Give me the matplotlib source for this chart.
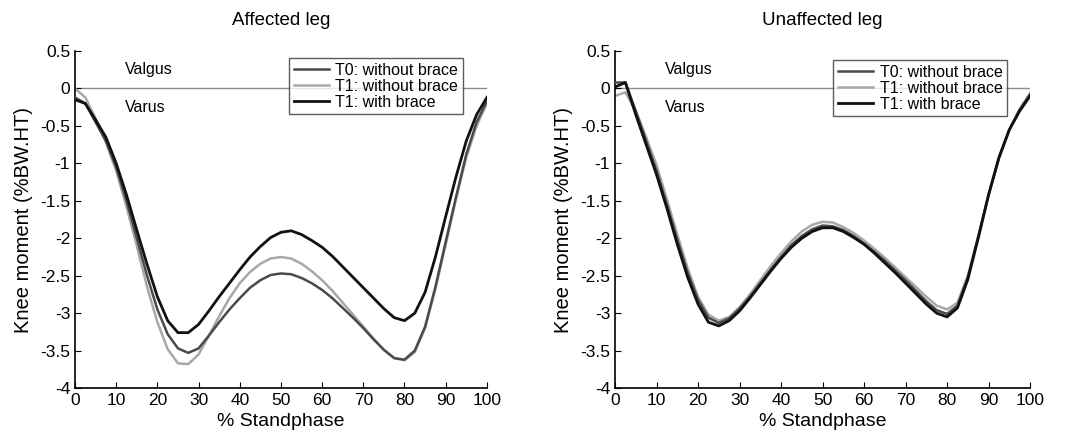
import numpy as np
import matplotlib
matplotlib.use("Agg")
import matplotlib.pyplot as plt

plt.rcParams['font.family'] = ['Liberation Sans', 'DejaVu Sans']

# % stand phase
x = np.arange(0, 100.1, 2.5)

# affected leg
aff_t0 = [-0.12, -0.2, -0.45, -0.7, -1.05, -1.5, -2.0, -2.5, -2.95, -3.28, -3.47, -3.53, -3.47, -3.3,
          -3.12, -2.95, -2.8, -2.66, -2.56, -2.49, -2.47, -2.48, -2.53, -2.6, -2.69, -2.8, -2.93,
          -3.06, -3.2, -3.35, -3.49, -3.6, -3.62, -3.5, -3.18, -2.65, -2.05, -1.45, -0.88, -0.45, -0.17]
aff_t1_without = [0.0, -0.12, -0.4, -0.72, -1.1, -1.58, -2.1, -2.65, -3.12, -3.48, -3.67, -3.68, -3.55,
                  -3.3, -3.04, -2.8, -2.6, -2.45, -2.34, -2.27, -2.25, -2.27, -2.34, -2.44, -2.56, -2.7,
                  -2.86, -3.02, -3.18, -3.34, -3.49, -3.6, -3.63, -3.52, -3.2, -2.68, -2.08, -1.48,
                  -0.92, -0.5, -0.2]
aff_t1_with = [-0.15, -0.2, -0.42, -0.65, -1.0, -1.42, -1.89, -2.35, -2.78, -3.1, -3.26, -3.26, -3.15,
               -2.97, -2.78, -2.6, -2.42, -2.25, -2.11, -1.99, -1.92, -1.9, -1.95, -2.03, -2.12, -2.24,
               -2.38, -2.52, -2.66, -2.8, -2.94, -3.06, -3.1, -3.0, -2.72, -2.25, -1.71, -1.18, -0.7,
               -0.35, -0.12]

# unaffected leg
un_t0 = [0.08, 0.08, -0.3, -0.7, -1.1, -1.55, -2.02, -2.46, -2.82, -3.06, -3.13, -3.07, -2.94, -2.78,
         -2.6, -2.42, -2.25, -2.09, -1.97, -1.88, -1.83, -1.84, -1.89, -1.97, -2.07, -2.18, -2.3,
         -2.43, -2.56, -2.7, -2.84, -2.96, -3.01, -2.9, -2.52, -1.98, -1.42, -0.93, -0.55, -0.28, -0.08]
un_t1_without = [-0.1, -0.05, -0.3, -0.65, -1.02, -1.48, -1.95, -2.4, -2.78, -3.02, -3.1, -3.05, -2.92,
                 -2.75, -2.56, -2.37, -2.2, -2.04, -1.91, -1.82, -1.78, -1.79, -1.85, -1.93, -2.03,
                 -2.14, -2.26, -2.39, -2.52, -2.65, -2.78, -2.9, -2.95, -2.86, -2.5, -1.98, -1.42,
                 -0.93, -0.55, -0.28, -0.06]
un_t1_with = [0.02, 0.08, -0.35, -0.75, -1.15, -1.6, -2.08, -2.52, -2.88, -3.12, -3.17, -3.1, -2.97,
              -2.8, -2.62, -2.44, -2.27, -2.12, -2.0, -1.91, -1.86, -1.86, -1.91, -1.99, -2.08, -2.2,
              -2.33, -2.46, -2.6, -2.74, -2.88, -3.0, -3.05, -2.93, -2.55, -2.0, -1.42, -0.92, -0.55,
              -0.3, -0.1]

labels = ["T0: without brace", "T1: without brace", "T1: with brace"]
titles = ["Affected leg", "Unaffected leg"]

fig = plt.figure(figsize=(10.67, 4.4), dpi=100)
ax1 = fig.add_axes([0.0703, 0.118, 0.386, 0.766])
ax2 = fig.add_axes([0.5764, 0.118, 0.389, 0.766])

data = [(aff_t0, aff_t1_without, aff_t1_with), (un_t0, un_t1_without, un_t1_with)]
anchors = [(0.942, 0.979), (0.945, 0.973)]

for ax, (t0, t1w, t1b), title, anc in zip([ax1, ax2], data, titles, anchors):
    ax.plot([0, 100], [0, 0], color="#8a8a8a", lw=1.0, zorder=1)
    l1, = ax.plot(x, t0, color="#4a4a4a", lw=1.8, label=labels[0], zorder=3)
    l2, = ax.plot(x, t1w, color="#a8a8a8", lw=1.8, label=labels[1], zorder=2)
    l3, = ax.plot(x, t1b, color="#111111", lw=2.0, label=labels[2], zorder=4)
    ax.set_xlim(0, 100)
    ax.set_ylim(-4, 0.5)
    ax.set_xticks(range(0, 101, 10))
    ax.set_yticks(np.arange(-4, 0.51, 0.5))
    ax.set_yticklabels(["-4", "-3.5", "-3", "-2.5", "-2", "-1.5", "-1", "-0.5", "0", "0.5"])
    ax.spines['top'].set_visible(False)
    ax.spines['right'].set_visible(False)
    ax.spines['left'].set_linewidth(1.2)
    ax.spines['bottom'].set_linewidth(1.2)
    ax.tick_params(direction="in", labelsize=12.5, length=4, pad=3.5)
    ax.set_xlabel("% Standphase", fontsize=14, labelpad=4)
    ax.set_ylabel("Knee moment (%BW.HT)", fontsize=14.5, labelpad=5)
    ax.set_title(title, fontsize=13.5, pad=19)
    ax.text(12, 0.25, "Valgus", fontsize=11.5, va="center")
    ax.text(12, -0.25, "Varus", fontsize=11.5, va="center")
    leg = ax.legend(handles=[l1, l2, l3], loc="upper right", bbox_to_anchor=anc, borderaxespad=0,
                    fontsize=11.5, frameon=True, fancybox=False, edgecolor="#333333",
                    handlelength=2.2, labelspacing=0.05, borderpad=0.3, handletextpad=0.4)
    leg.get_frame().set_linewidth(1.0)

fig.savefig("out.png", dpi=100)
